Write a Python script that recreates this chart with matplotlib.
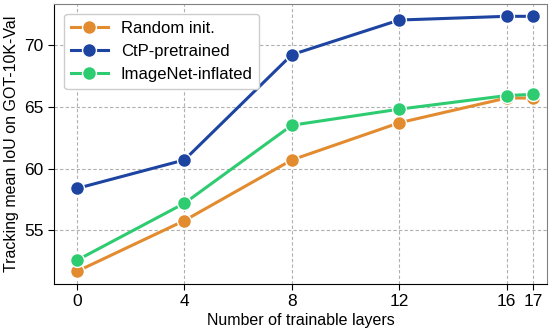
import matplotlib
matplotlib.use("Agg")
import matplotlib.pyplot as plt

plt.rcParams["font.family"] = ["Liberation Sans", "DejaVu Sans"]

layers = [0, 4, 8, 12, 16, 17]
random_init = [51.7, 55.8, 60.7, 63.7, 65.7, 65.7]
ctp_pretrained = [58.4, 60.7, 69.2, 72.0, 72.3, 72.3]
imagenet_inflated = [52.6, 57.2, 63.5, 64.8, 65.9, 66.0]

series = [
    ("Random init.", random_init, "#e28b2f"),
    ("CtP-pretrained", ctp_pretrained, "#1d44a0"),
    ("ImageNet-inflated", imagenet_inflated, "#2ecc71"),
]

fig, ax = plt.subplots(figsize=(5.53, 3.28), dpi=100)

for name, vals, color in series:
    ax.plot(layers, vals, color=color, lw=2.2, marker="o", markersize=10,
            markeredgecolor="white", markeredgewidth=1.0, label=name, zorder=3)

ax.set_xlim(-0.85, 17.5)
ax.set_ylim(50.7, 73.3)
ax.set_xticks(layers)
ax.set_yticks([55, 60, 65, 70])
ax.tick_params(labelsize=12.5, length=4)
ax.grid(True, ls=(0, (3, 2)), color="#b0b0b0", lw=0.8)
ax.set_axisbelow(True)
ax.set_xlabel("Number of trainable layers", fontsize=11.5, labelpad=3)
ax.set_ylabel("Tracking mean IoU on GOT-10K-Val", fontsize=11.5, labelpad=4)

for side in ["top", "right"]:
    ax.spines[side].set_color("#808080")

leg = ax.legend(loc="upper left", fontsize=12, frameon=True, framealpha=1,
                edgecolor="#cccccc", handlelength=2.2, borderaxespad=0.6)

fig.subplots_adjust(left=0.098, right=0.989, top=0.988, bottom=0.135)
fig.savefig("out.png", dpi=100)
